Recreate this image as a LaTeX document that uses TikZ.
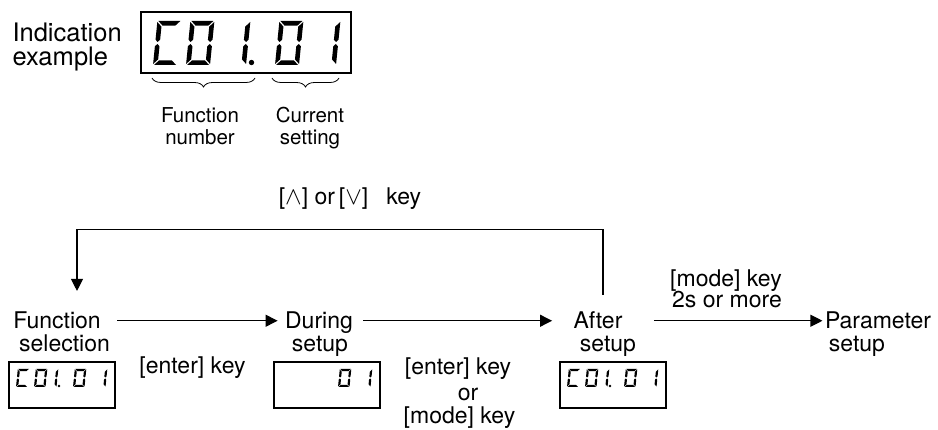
\documentclass[tikz,border=0pt]{standalone}
\usepackage{fontspec}
\setmainfont{TeX Gyre Heros}
\usetikzlibrary{arrows.meta,decorations.pathreplacing}

\newcommand\fM{\fontsize{23}{23}\selectfont}
\newcommand\fL{\fontsize{25.5}{25.5}\selectfont}
\newcommand\fS{\fontsize{20.5}{20.5}\selectfont}
\newcommand\fW{\fontsize{29}{29}\selectfont}

% seven-segment pieces (local frame, y up)
\newcommand\sA{\fill (\dg,\dh) -- (\dw-\dg,\dh) -- (\dw-\dt-\dg,\dh-\dt) -- (\dt+\dg,\dh-\dt) -- cycle;}
\newcommand\sD{\fill (\dg,0) -- (\dw-\dg,0) -- (\dw-\dt-\dg,\dt) -- (\dt+\dg,\dt) -- cycle;}
\newcommand\sF{\fill (0,\dh-\dg) -- (\dt,\dh-\dt-\dg) -- (\dt,\dh/2+\dg+\dt/2) -- (\dt/2,\dh/2+\dg) -- (0,\dh/2+\dg+\dt/2) -- cycle;}
\newcommand\sE{\fill (0,\dg) -- (\dt,\dt+\dg) -- (\dt,\dh/2-\dg-\dt/2) -- (\dt/2,\dh/2-\dg) -- (0,\dh/2-\dg-\dt/2) -- cycle;}
\newcommand\sB{\fill (\dw,\dh-\dg) -- (\dw-\dt,\dh-\dt-\dg) -- (\dw-\dt,\dh/2+\dg+\dt/2) -- (\dw-\dt/2,\dh/2+\dg) -- (\dw,\dh/2+\dg+\dt/2) -- cycle;}
\newcommand\sC{\fill (\dw,\dg) -- (\dw-\dt,\dt+\dg) -- (\dw-\dt,\dh/2-\dg-\dt/2) -- (\dw-\dt/2,\dh/2-\dg) -- (\dw,\dh/2-\dg-\dt/2) -- cycle;}

\newcommand\digC[2]{\begin{scope}[digit={#1}{#2}]\sA\sD\sE\sF\end{scope}}
\newcommand\digO[2]{\begin{scope}[digit={#1}{#2}]\sA\sB\sC\sD\sE\sF\end{scope}}
\newcommand\digI[2]{\begin{scope}[digit={#1}{#2}]\sB\sC\end{scope}}

% small display C01.01 at box left #1
\newcommand\smallfull[1]{%
  \digC{#1+7}{387}\digO{#1+25}{387}\digI{#1+36}{387}%
  \fill (#1+50,386) circle (1.3pt);%
  \digO{#1+64}{387}\digI{#1+85}{387}}

\begin{document}
\begin{tikzpicture}[x=1pt,y=-1pt,line width=1.1pt,
  digit/.style 2 args={shift={(#1,#2)},xslant=0.1,x={(1pt,0pt)},y={(0pt,1pt)}},
  dispbox/.style={draw,line width=1.2pt,inner sep=0pt,minimum width=106pt,minimum height=46pt},
  bigbox/.style={draw,line width=1.5pt,inner sep=0pt,minimum width=210pt,minimum height=61pt},
  tm/.style={font=\fM,inner sep=0pt,anchor=base},
  tl/.style={font=\fL,inner sep=0pt,anchor=base west},
  ts/.style={font=\fS,inner sep=0pt,anchor=base},
  st/.style={font=\fM,inner sep=0pt,anchor=base,text height=16.5pt,text depth=0pt},
  arr/.style={-{Triangle[length=12pt,width=12pt]}},
  brc/.style={decorate,decoration={brace,mirror,amplitude=9pt},line width=0.8pt}]
\useasboundingbox (0,0) rectangle (938,430);

% ---- indication example ----
\node[tl] (ind1) at (12,42) {Indication};
\node[tl] (ind2) at (12,66) {example};
\node[bigbox] (big) at (246,42.5) {};
\def\dw{24}\def\dh{44}\def\dt{4.6}\def\dg{1}
\digC{153}{65}\digO{186}{65}\digI{222}{65}
\fill (251.5,62.5) circle (2.7pt);
\digO{275}{65}\digI{312}{65}

\coordinate (b1l) at (152,78); \coordinate (b1r) at (255,78);
\coordinate (b2l) at (272,78); \coordinate (b2r) at (339,78);
\draw[brc] (b1l) -- (b1r);
\draw[brc] (b2l) -- (b2r);
\node[ts] (fn1) at (200,123) {Function};
\node[ts] (fn2) at (200,145) {number};
\node[ts] (cs1) at (310,123) {Current};
\node[ts] (cs2) at (310,145) {setting};

% ---- flow ----
\node[tm] (updown) at (350,205) {[{\fW$\wedge$}] or\hspace{4pt}[{\fW$\vee$}]\hspace{18pt}key};

\node[st] (fs1) at (57,329) {Function};
\node[st] (fs2) at (64.5,352) {selection};
\node[st] (ds1) at (319,329) {During};
\node[st] (ds2) at (320,352) {setup};
\node[st] (af1) at (598,329) {After};
\node[st] (af2) at (608,352) {setup};
\node[st] (ps1) at (878,329) {Parameter};
\node[st] (ps2) at (857,352) {setup};

\node[dispbox] (fsd) at (62,385) {};
\node[dispbox] (dsd) at (327,385) {};
\node[dispbox] (afd) at (613,385) {};
\def\dw{11.5}\def\dh{18}\def\dt{2.2}\def\dg{0.5}
\smallfull{9}
\digO{274+64}{387}\digI{274+85}{387}
\smallfull{560}

\node[tm] (ek1) at (192.5,374) {[enter] key};
\node[tm] (ek2) at (458,375) {[enter] key};
\node[tm] (ekor) at (468,401) {or};
\node[tm] (ek3) at (459.5,424) {[mode] key};
\node[tm] (mk1) at (726,287) {[mode] key};
\node[tm] (mk2) at (727,308) {2s or more};

\draw[arr] ([xshift=16pt]fs1.east) -- ([xshift=-7pt]ds1.west);
\draw[arr] ([xshift=10pt]ds1.east) -- ([xshift=-21pt]af1.west);
\draw[arr] ([xshift=31pt]af1.east) -- ([xshift=-2pt]ps1.west);
\draw[arr] ([xshift=5pt,yshift=17pt]af1.north) -- ++(0,-65) -| ([xshift=20pt,yshift=21pt]fs1.north);
\end{tikzpicture}
\end{document}
